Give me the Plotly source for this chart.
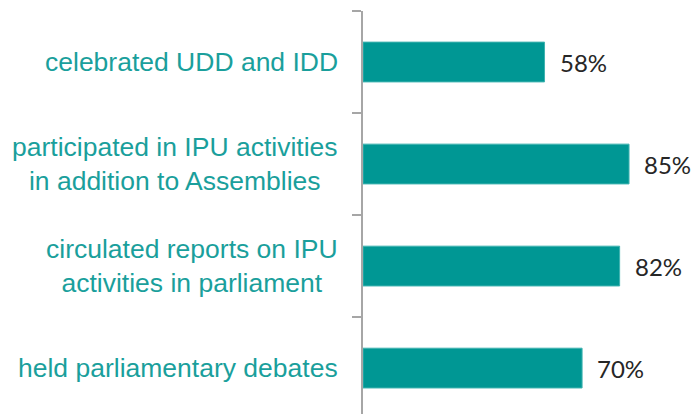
import plotly.graph_objects as go

categories = [
    "celebrated UDD and IDD",
    "participated in IPU activities<br>in addition to Assemblies",
    "circulated reports on IPU<br>activities in parliament",
    "held parliamentary debates",
]
values = [58, 85, 82, 70]
value_labels = ["58%", "85%", "82%", "70%"]

positions = list(range(len(categories)))

BAR = "#009794"
LABEL = "#1a9f9c"

fig = go.Figure()
fig.add_trace(go.Bar(
    x=values, y=positions, orientation="h", width=0.39,
    marker=dict(color=BAR, line=dict(color="#3fb3b0", width=1)),
    hoverinfo="skip",
))

for p, v, t in zip(positions, values, value_labels):
    fig.add_annotation(x=v, y=p, xref="x", yref="y", text=t, showarrow=False,
                       xanchor="left", yanchor="middle", xshift=13,
                       font=dict(family="Lato", size=24, color="#262626"))

for p, c in zip(positions, categories):
    fig.add_annotation(x=0, y=p, xref="paper", yref="y", text=c, showarrow=False,
                       xanchor="right", yanchor="middle", align="center", xshift=-23,
                       font=dict(family="Liberation Sans, Arial", size=26.5, color=LABEL))

fig.update_layout(
    width=691, height=414,
    margin=dict(l=363, r=0, t=11, b=0),
    paper_bgcolor="white", plot_bgcolor="white",
    showlegend=False,
    xaxis=dict(range=[0, 104.8], visible=False, fixedrange=True),
    yaxis=dict(range=[3.45, -0.5], showline=True, linecolor="#a6a6a6", linewidth=1.5,
               ticks="outside", ticklen=9, tickcolor="#a6a6a6", tickwidth=1.5,
               tickvals=[-0.5, 0.5, 1.5, 2.5, 3.5], showticklabels=False,
               showgrid=False, zeroline=False, fixedrange=True),
)

fig.write_html("out.html", config={"displayModeBar": False},
               post_script="document.body.style.margin='0';document.body.style.overflow='hidden';")
